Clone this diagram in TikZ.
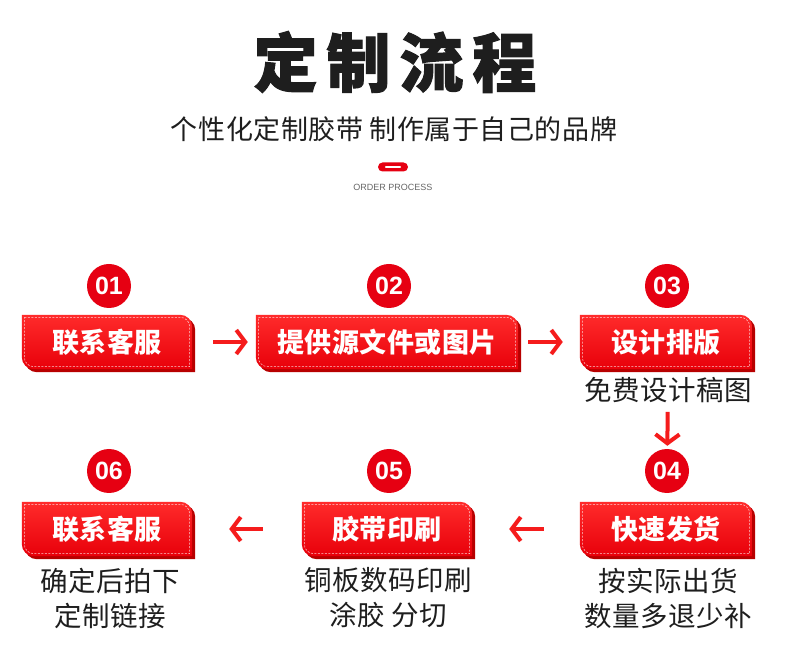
\documentclass[tikz,border=0pt]{standalone}
\usepackage{fontspec}
\setmainfont{Noto Sans CJK SC}
\newfontfamily\cjkfont{Noto Sans CJK SC}[LetterSpace=2]
\newfontfamily\titlefont{Noto Sans CJK SC}[LetterSpace=14, FakeBold=1.5]
\newfontfamily\latinfont{Liberation Sans}
\usepackage{tikz}
\usetikzlibrary{arrows.meta, positioning, backgrounds}

\definecolor{brandred}{HTML}{E60012}
\definecolor{bannertop}{HTML}{FF2B2B}
\definecolor{bannerbot}{HTML}{E8000A}
\definecolor{bannershade}{HTML}{B80000}
\definecolor{arrowred}{HTML}{F51C1C}
\definecolor{inkgray}{HTML}{1E1E1E}

% contorno da faixa (nome, deslocamento)
\newcommand\bannershape[2]{%
  ([shift={#2}]#1.north west) -- ([shift={#2},xshift=-12pt]#1.north east)
  arc[start angle=90, end angle=0, radius=12pt] -- ([shift={#2}]#1.south east)
  -- ([shift={#2},xshift=12pt]#1.south west)
  arc[start angle=270, end angle=180, radius=12pt] -- cycle}
\newcommand\bannerinset[1]{%
  ([shift={(2.5pt,-2.5pt)}]#1.north west) -- ([shift={(-12pt,-2.5pt)}]#1.north east)
  arc[start angle=90, end angle=0, radius=9.5pt] -- ([shift={(-2.5pt,2.5pt)}]#1.south east)
  -- ([shift={(12pt,2.5pt)}]#1.south west)
  arc[start angle=270, end angle=180, radius=9.5pt] -- cycle}

\begin{document}
\begin{tikzpicture}[x=1pt, y=1pt, >=Stealth,
		banner/.style={rectangle, minimum height=54pt, inner sep=0pt, text=white, font=\cjkfont\bfseries\fontsize{27}{29}\selectfont},
		num/.style={circle, fill=brandred, minimum size=44pt, inner sep=0pt, text=white, font=\latinfont\bfseries\fontsize{25}{25}\selectfont},
		note/.style={text=inkgray, inner sep=2pt, align=center, font=\cjkfont\fontsize{27.5}{35}\selectfont},
		flow/.style={draw=arrowred, line width=4pt, -{Straight Barb[length=9pt, width=24pt]}}]
		\useasboundingbox (0,0) rectangle (790,670);
		
		% Títulos
		\node[text=inkgray, font=\titlefont\bfseries\fontsize{64}{64}\selectfont] (title) at (395,608) {定制流程};
		\node[text=inkgray, font=\cjkfont\fontsize{27}{30}\selectfont] (subtitle) at (394,541) {个性化定制胶带 制作属于自己的品牌};
		\node[rectangle, rounded corners=4.5pt, fill=brandred, minimum width=30pt, minimum height=9pt, inner sep=0pt] (pill) at (393,503) {};
		\draw[white, line width=1.8pt, line cap=round] ([xshift=8pt]pill.west) -- ([xshift=-8pt]pill.east);
		\node[text=black!60, font=\latinfont\fontsize{9}{9}\selectfont] (process_t) at (393,483) {ORDER PROCESS};
		
		% Números
		\node[num] (n01) at (109,384) {01};
		\node[num] (n02) at (389,384) {02};
		\node[num] (n03) at (667,384) {03};
		\node[num] (n04) at (667,199) {04};
		\node[num] (n05) at (389,199) {05};
		\node[num] (n06) at (109,199) {06};
		
		% Faixas linha 1
		\node[banner, minimum width=170pt] (contact) at (107,328) {联系客服};
		\node[banner, minimum width=262pt] (files) at (387,328) {提供源文件或图片};
		\node[banner, minimum width=172pt] (design) at (666,328) {设计排版};
		
		% Faixas linha 2
		\node[banner, minimum width=172pt] (ship) at (666,141) {快速发货};
		\node[banner, minimum width=170pt] (print) at (387,141) {胶带印刷};
		\node[banner, minimum width=170pt] (order) at (107,141) {联系客服};
		
		% Textos
		\node[note] (design_t) at (668,280) {免费设计稿图};
		\node[note] (ship_t) at (668,72) {按实际出货\\数量多退少补};
		\node[note] (print_t) at (388,72) {铜板数码印刷\\涂胶 分切};
		\node[note] (order_t) at (110,72) {确定后拍下\\定制链接};
		
		% Setas
		\draw[flow, shorten <=21pt, shorten >=8pt] (contact) -- (files);
		\draw[flow, shorten <=10pt, shorten >=17pt] (files) -- (design);
		\draw[flow, shorten <=7pt, shorten >=3pt] (design_t) -- (n04);
		\draw[flow, shorten <=36pt, shorten >=37pt] (ship) -- (print);
		\draw[flow, shorten <=39pt, shorten >=37pt] (print) -- (order);
		
		% Fundo das faixas
		\begin{pgfonlayer}{background}
			\fill[white] (0,0) rectangle (790,670);
			\foreach \bn in {contact,files,design,ship,print,order}{
				\fill[bannershade] \bannershape{\bn}{(3pt,-3pt)};
				\shade[top color=bannertop, bottom color=bannerbot] \bannershape{\bn}{(0pt,0pt)};
				\draw[white, line width=0.5pt, dash pattern=on 2pt off 1.5pt, opacity=0.8] \bannerinset{\bn};
			}
		\end{pgfonlayer}
	\end{tikzpicture}
\end{document}
